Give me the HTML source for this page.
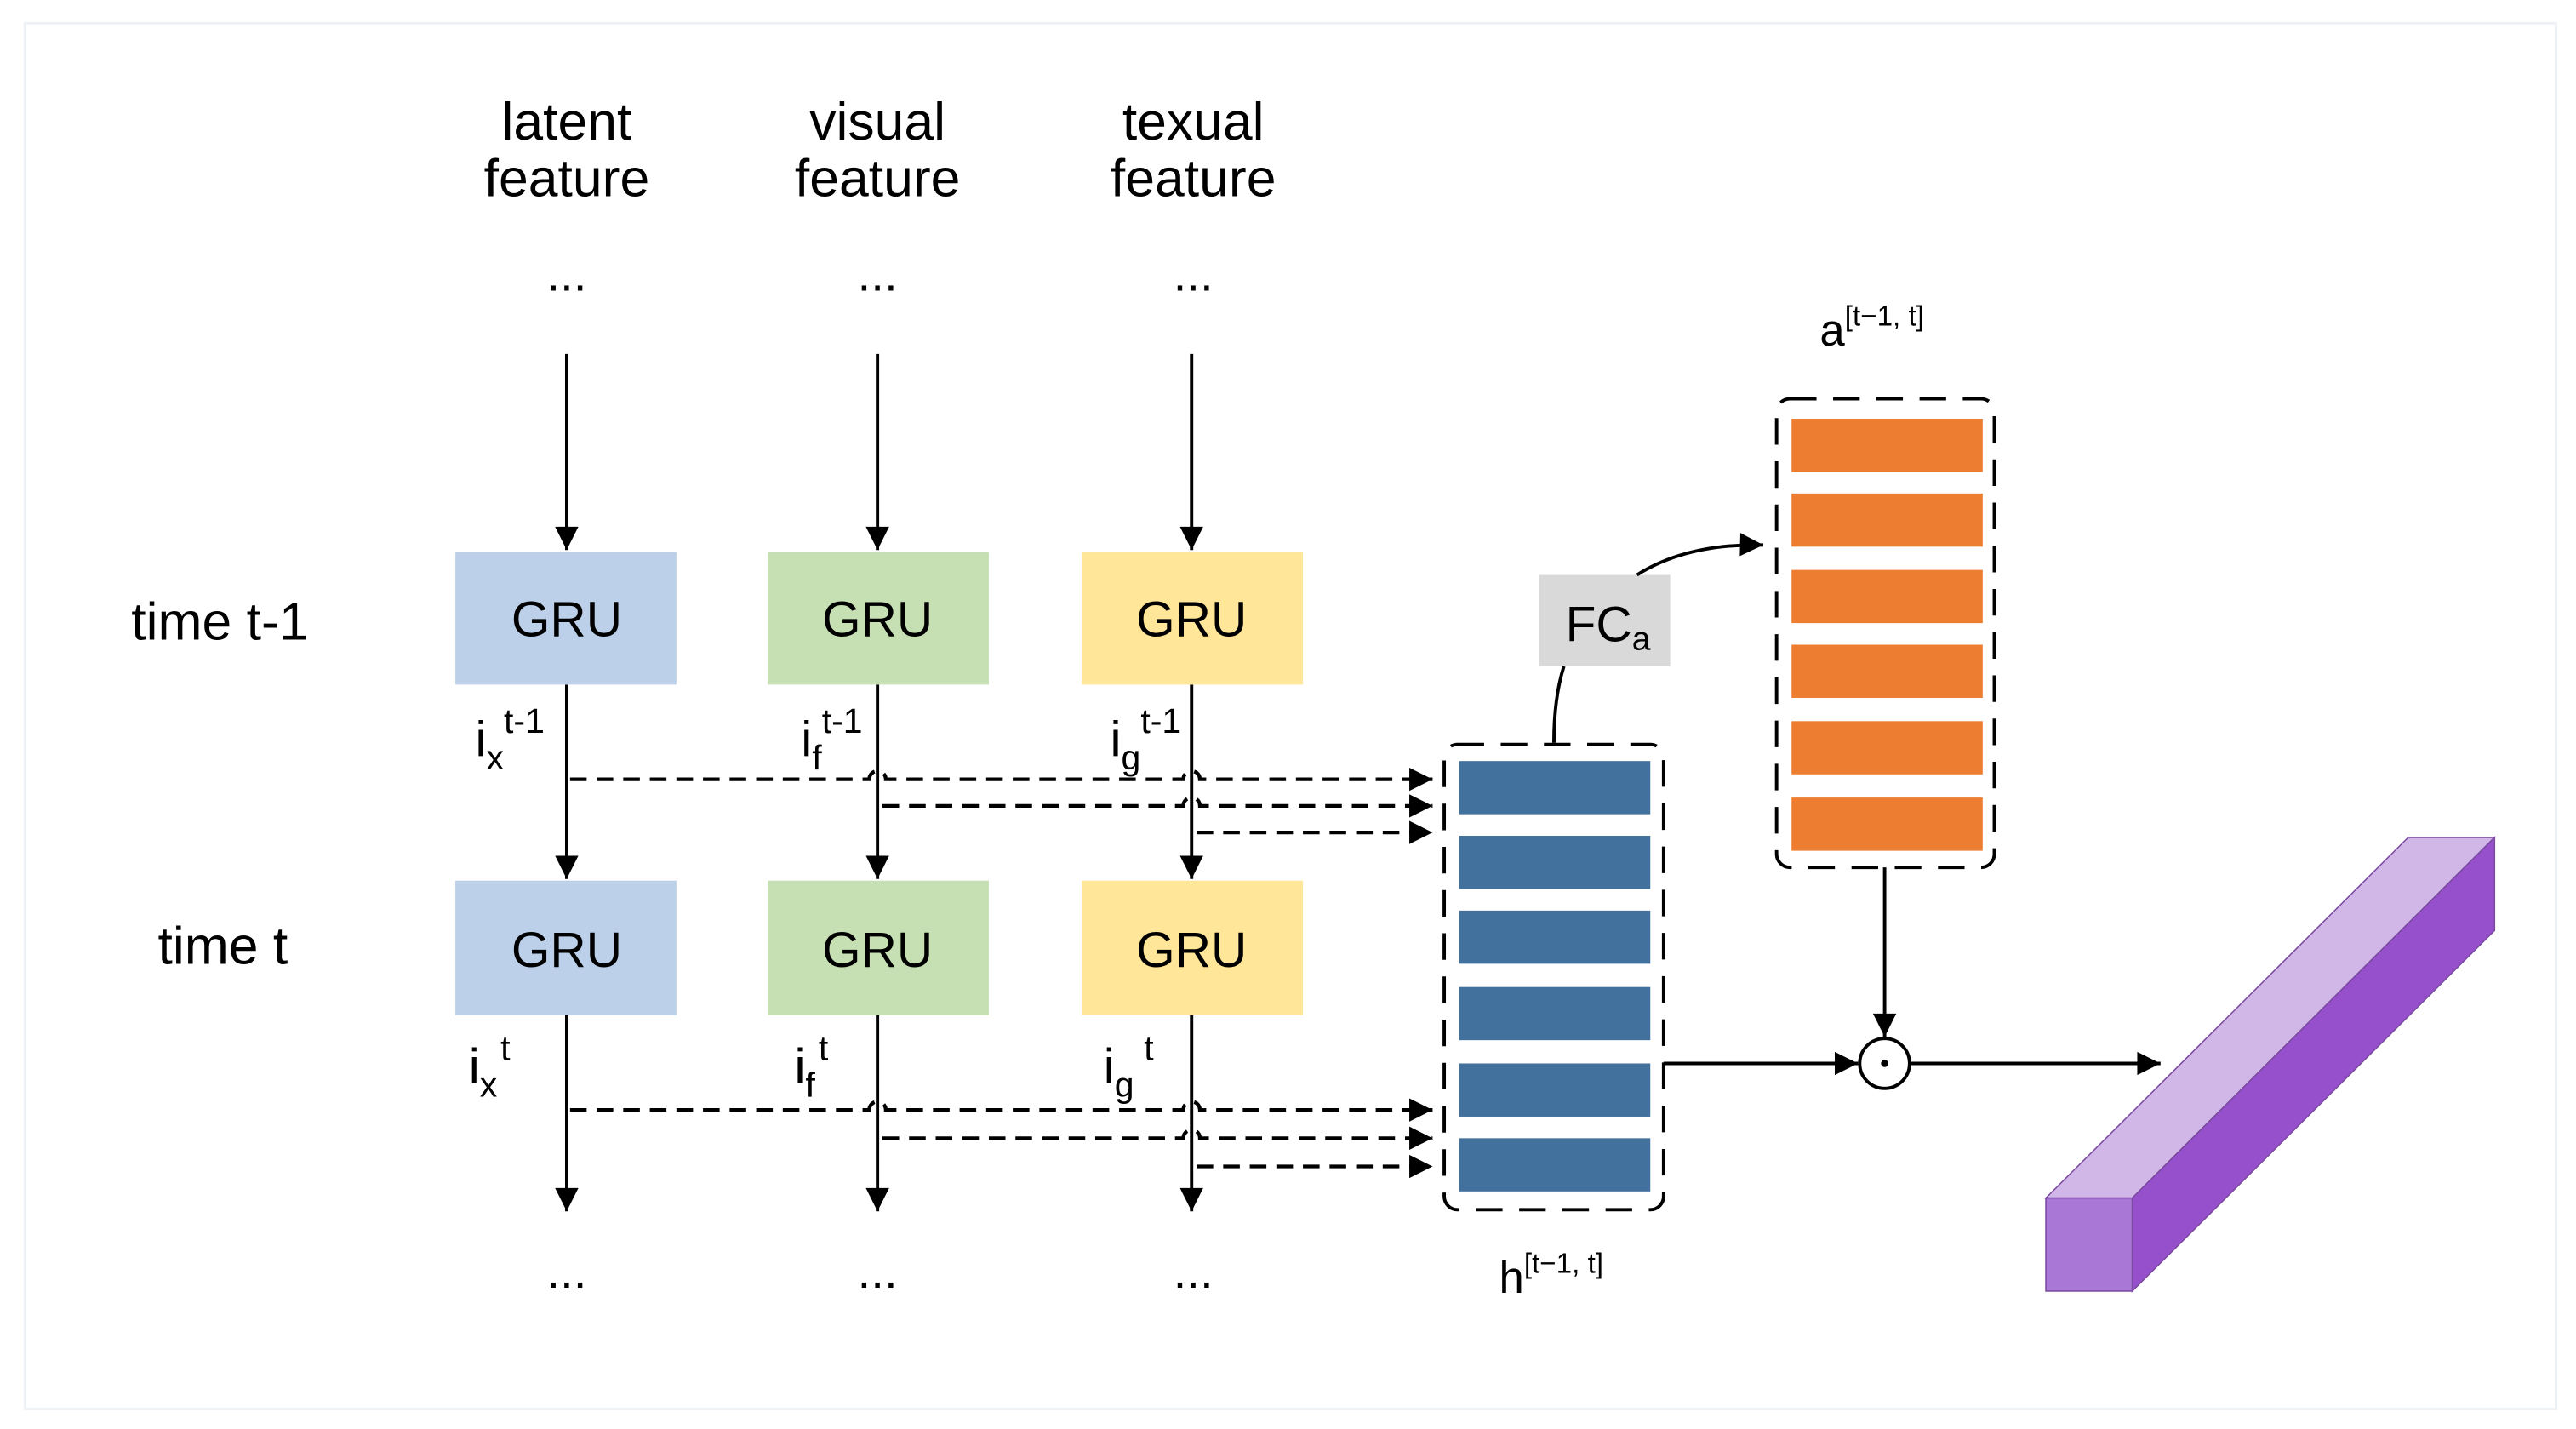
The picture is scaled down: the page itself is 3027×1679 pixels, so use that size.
<!DOCTYPE html>
<html><head><meta charset="utf-8"><style>
html,body{margin:0;padding:0;background:#fff;}
svg{display:block;}
text{font-family:"Liberation Sans","Noto Sans CJK SC",sans-serif;fill:#000;}
</style></head><body>
<svg width="3027" height="1679" viewBox="0 0 1550 860" preserveAspectRatio="none" xmlns="http://www.w3.org/2000/svg">
<defs>
<marker id="ab" viewBox="0 0 10 10" refX="10" refY="5" markerWidth="16" markerHeight="14" markerUnits="userSpaceOnUse" orient="auto">
<path d="M0,0 L10,5 L0,10 z" fill="#000"/></marker>
</defs>
<rect x="15" y="14" width="1523" height="834" fill="none" stroke="#eef2f6" stroke-width="1.5"/>
<g font-size="32" text-anchor="middle">
<text x="341" y="84">latent</text><text x="341" y="118">feature</text>
<text x="528" y="84">visual</text><text x="528" y="118">feature</text>
<text x="718" y="84">texual</text><text x="718" y="118">feature</text>
</g>
<g font-size="29" text-anchor="middle">
<text x="341" y="175">...</text><text x="528" y="175">...</text><text x="718" y="175">...</text>
<text x="341" y="775">...</text><text x="528" y="775">...</text><text x="718" y="775">...</text>
</g>
<text x="79" y="385" font-size="32">time t-1</text>
<text x="95" y="580" font-size="32">time t</text>
<g stroke="#000" stroke-width="2" fill="none">
<line x1="341" y1="213" x2="341" y2="331" marker-end="url(#ab)"/>
<line x1="528" y1="213" x2="528" y2="331" marker-end="url(#ab)"/>
<line x1="717" y1="213" x2="717" y2="331" marker-end="url(#ab)"/>
<line x1="341" y1="412" x2="341" y2="529" marker-end="url(#ab)"/>
<line x1="528" y1="412" x2="528" y2="529" marker-end="url(#ab)"/>
<line x1="717" y1="412" x2="717" y2="529" marker-end="url(#ab)"/>
<line x1="341" y1="611" x2="341" y2="729" marker-end="url(#ab)"/>
<line x1="528" y1="611" x2="528" y2="729" marker-end="url(#ab)"/>
<line x1="717" y1="611" x2="717" y2="729" marker-end="url(#ab)"/>
</g>
<rect x="274" y="332" width="133" height="80" fill="#bdd0e9"/>
<rect x="462" y="332" width="133" height="80" fill="#c6e0b4"/>
<rect x="651" y="332" width="133" height="80" fill="#ffe699"/>
<rect x="274" y="530" width="133" height="81" fill="#bdd0e9"/>
<rect x="462" y="530" width="133" height="81" fill="#c6e0b4"/>
<rect x="651" y="530" width="133" height="81" fill="#ffe699"/>
<g font-size="30" text-anchor="middle">
<text x="341" y="383">GRU</text><text x="528" y="383">GRU</text><text x="717" y="383">GRU</text>
<text x="341" y="582">GRU</text><text x="528" y="582">GRU</text><text x="717" y="582">GRU</text>
</g>
<g font-size="30">
<text x="286" y="455">i<tspan font-size="21" dy="8">x</tspan><tspan font-size="21" dy="-22">t-1</tspan></text>
<text x="482" y="455">i<tspan font-size="21" dy="8">f</tspan><tspan font-size="21" dy="-22">t-1</tspan></text>
<text x="668" y="455">i<tspan font-size="21" dy="8">g</tspan><tspan font-size="21" dy="-22">t-1</tspan></text>
<text x="282" y="652">i<tspan font-size="21" dy="8">x</tspan><tspan font-size="21" dy="-22" dx="2">t</tspan></text>
<text x="478" y="652">i<tspan font-size="21" dy="8">f</tspan><tspan font-size="21" dy="-22" dx="2">t</tspan></text>
<text x="664" y="652">i<tspan font-size="21" dy="8">g</tspan><tspan font-size="21" dy="-22" dx="6">t</tspan></text>
</g>
<g stroke="#000" stroke-width="2.2" fill="none" stroke-dasharray="10,6">
<path d="M343,469 H523 a5,5 0 0 1 10,0 H712 a5,5 0 0 1 10,0 H862" marker-end="url(#ab)"/>
<path d="M531,485 H712 a5,5 0 0 1 10,0 H862" marker-end="url(#ab)"/>
<path d="M720,501 H862" marker-end="url(#ab)"/>
<path d="M343,668 H523 a5,5 0 0 1 10,0 H712 a5,5 0 0 1 10,0 H862" marker-end="url(#ab)"/>
<path d="M531,685 H712 a5,5 0 0 1 10,0 H862" marker-end="url(#ab)"/>
<path d="M720,702 H862" marker-end="url(#ab)"/>
</g>
<rect x="869" y="448" width="132" height="280" rx="8" fill="none" stroke="#000" stroke-width="2" stroke-dasharray="16,10"/>
<g fill="#41719c">
<rect x="878" y="458" width="115" height="32"/><rect x="878" y="503" width="115" height="32"/>
<rect x="878" y="548" width="115" height="32"/><rect x="878" y="594" width="115" height="32"/>
<rect x="878" y="640" width="115" height="32"/><rect x="878" y="685" width="115" height="32"/>
</g>
<rect x="1069" y="240" width="131" height="282" rx="8" fill="none" stroke="#000" stroke-width="2" stroke-dasharray="16,10"/>
<g fill="#ed7d31">
<rect x="1078" y="252" width="115" height="32"/><rect x="1078" y="297" width="115" height="32"/>
<rect x="1078" y="343" width="115" height="32"/><rect x="1078" y="388" width="115" height="32"/>
<rect x="1078" y="434" width="115" height="32"/><rect x="1078" y="480" width="115" height="32"/>
</g>
<rect x="926" y="346" width="79" height="55" fill="#d9d9d9"/>
<text x="942" y="386" font-size="30">FC<tspan font-size="20" dy="5">a</tspan></text>
<g stroke="#000" stroke-width="2" fill="none">
<path d="M935,447 Q935,420 941,401"/>
<path d="M985,346 Q1015,327 1061,328" marker-end="url(#ab)"/>
<line x1="1134" y1="522" x2="1134" y2="624" marker-end="url(#ab)"/>
<line x1="1001" y1="640" x2="1118" y2="640" marker-end="url(#ab)"/>
<line x1="1150" y1="640" x2="1300" y2="640" marker-end="url(#ab)"/>
<circle cx="1134" cy="640" r="15"/>
</g>
<circle cx="1134" cy="640" r="2.2" fill="#000"/>
<text x="1095" y="208" font-size="27">a<tspan font-size="17" dy="-12">[t−1, t]</tspan></text>
<text x="902" y="778" font-size="27">h<tspan font-size="17" dy="-12">[t−1, t]</tspan></text>
<polygon points="1231,721 1449,504 1501,504 1283,721" fill="#d1b6e8" stroke="#7a4aa0" stroke-width="0.8"/>
<polygon points="1283,721 1501,504 1501,560 1283,777" fill="#9650cc" stroke="#7a4aa0" stroke-width="0.8"/>
<rect x="1231" y="721" width="52" height="56" fill="#a978d6" stroke="#7a4aa0" stroke-width="0.8"/>
</svg>
</body></html>
